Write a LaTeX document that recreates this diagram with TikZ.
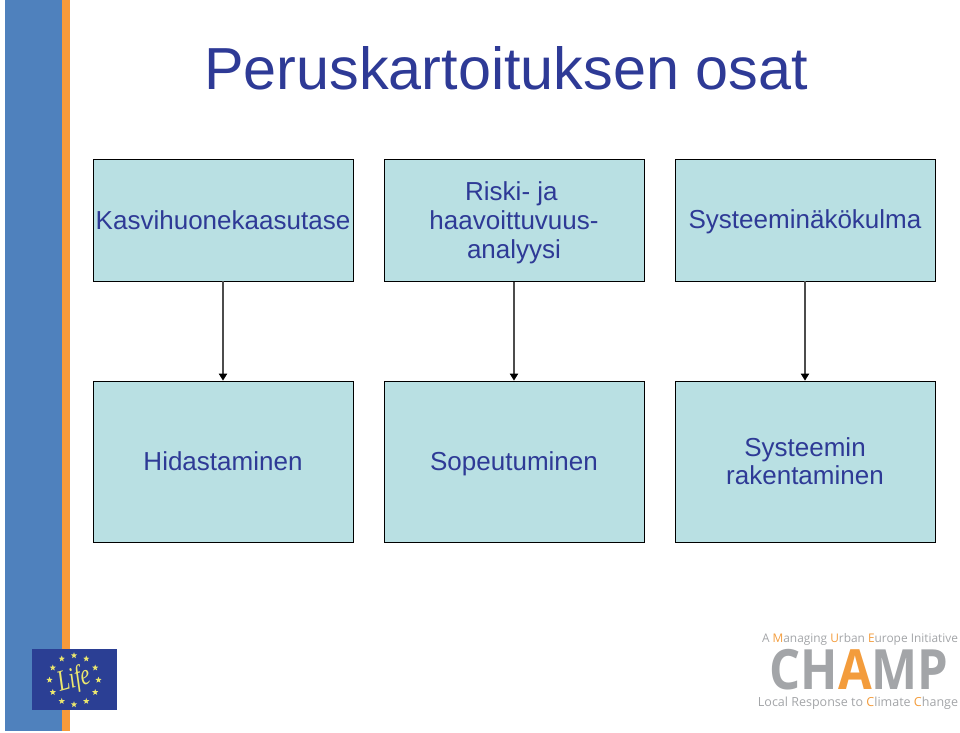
\documentclass[tikz,border=0pt]{standalone}
\usepackage{fontspec}
\setmainfont{Liberation Sans}
\newfontfamily\logofont{Open Sans}
\newfontfamily\lifefont{Liberation Serif}
\usetikzlibrary{arrows.meta,shapes.geometric}
\definecolor{bandblue}{HTML}{4F81BD}
\definecolor{bandorange}{HTML}{F79A3A}
\definecolor{boxfill}{HTML}{B9E0E3}
\definecolor{titleblue}{HTML}{2E3A96}
\definecolor{lifeblue}{HTML}{2B3F94}
\definecolor{lifeyellow}{HTML}{EDE86E}
\definecolor{champgrey}{HTML}{A3A5A8}
\definecolor{champorange}{HTML}{F39C3C}
\tikzset{
  topbox/.style={draw=black,fill=boxfill,line width=0.6pt,inner sep=0pt,minimum width=6.5cm,minimum height=3.05cm,
    align=center,text=titleblue,font=\fontsize{18.5}{20.6}\selectfont},
  lowbox/.style={topbox,minimum height=4.025cm},
  flow/.style={draw=black!70,line width=0.8pt,-{Triangle[length=5pt,width=6pt,color=black]}},
  lifestar/.style={star,star points=5,star point ratio=2.4,fill=lifeyellow,inner sep=0pt,minimum size=4.6pt},
  logotext/.style={text=champgrey,inner sep=0pt}
}
\newcommand{\hl}[1]{{\color{champorange}#1}}
\newcommand{\ls}{\rule[-3.2pt]{0pt}{19.2pt}}
\begin{document}
\begin{tikzpicture}[x=0.025cm,y=-0.025cm]
\useasboundingbox (0,0) rectangle (960,732);
% side band
\fill[bandblue](5,0) rectangle (62,731);
\fill[bandorange](62,0) rectangle (70,731);
\node (title) at (506,68) {\fontsize{42.2}{50}\selectfont\color{titleblue}Peruskartoituksen osat};
%
\node[topbox] (kasvi) at (223,220) {\ls Kasvihuonekaasutase};
\node[topbox] (riski) at (514,220.5) {\ls Riski- ja\hspace{0.2em}\mbox{}\\\ls haavoittuvuus-\\\ls analyysi};
\node[topbox] (systeemi) at (805,220) {\ls Systeeminäkökulma};
\node[lowbox] (hidast) at (223,461.5) {\ls Hidastaminen};
\node[lowbox] (sopeut) at (514,461.5) {\ls Sopeutuminen};
\node[lowbox] (rakent) at (805,461.5) {\ls Systeemin\\\ls rakentaminen};
%
\draw[flow](kasvi)--(hidast);
\draw[flow](riski)--(sopeut);
\draw[flow](systeemi)--(rakent);
% life logo
\fill[lifeblue](32,649) rectangle (117,710);
\coordinate (lifemid) at (74,680);
\foreach \a in {0,30,...,330}{
  \node[lifestar] (star\a) at ([shift={(\a:24.5)}]lifemid) {};
}
\node[rotate=15,yscale=1.4,text=lifeyellow,inner sep=0pt] (lifetext) at (74,680) {\lifefont\itshape\fontsize{15}{15}\selectfont Life};
% champ logo
\node[logotext] (champtop) at (860,639) {\logofont\fontsize{8.45}{9}\selectfont A \hl{M}anaging \hl{U}rban \hl{E}urope Initiative};
\node[logotext,xscale=0.88] (champ) at (859,670) {\logofont\bfseries\fontsize{39.5}{39.5}\selectfont CH\hl{A}MP};
\node[logotext] (champlow) at (858,703) {\logofont\fontsize{8.9}{9}\selectfont Local Response to \hl{C}limate \hl{C}hange};
\end{tikzpicture}
\end{document}
